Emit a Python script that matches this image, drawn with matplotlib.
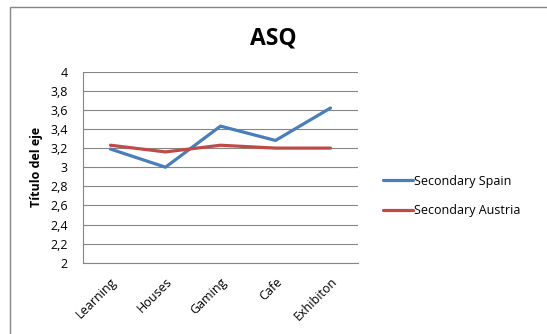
import matplotlib
matplotlib.use("Agg")
import matplotlib.pyplot as plt
from matplotlib.patches import Rectangle
from matplotlib.ticker import FuncFormatter

categories = ["Learning", "Houses", "Gaming", "Cafe", "Exhibiton"]
spain = [3.19, 3.00, 3.43, 3.28, 3.62]
austria = [3.23, 3.16, 3.23, 3.20, 3.20]
y_ticks = [2.0, 2.2, 2.4, 2.6, 2.8, 3.0, 3.2, 3.4, 3.6, 3.8, 4.0]

plt.rcParams["font.family"] = ["Open Sans", "DejaVu Sans"]

W, H = 547, 334
fig = plt.figure(figsize=(W / 100, H / 100), dpi=100)
fig.patch.set_facecolor("white")

# chart-area frame
fig.patches.append(Rectangle((10 / W, -0.05), 1.0, 1 - 7 / H + 0.05,
                             transform=fig.transFigure, fill=False,
                             edgecolor="#868686", linewidth=1.0))

ax = fig.add_axes([83 / W, 1 - 262.7 / H, (358 - 83) / W, (262.7 - 71.7) / H])
x = list(range(len(categories)))
ax.plot(x, spain, color="#4A7EBB", linewidth=2.3, label="Secondary Spain",
        solid_capstyle="round")
ax.plot(x, austria, color="#BE4B48", linewidth=2.3, label="Secondary Austria",
        solid_capstyle="round")

ax.set_xlim(-0.5, len(categories) - 0.5)
ax.set_ylim(2, 4)
ax.set_yticks(y_ticks)
ax.yaxis.set_major_formatter(FuncFormatter(
    lambda v, p: ("%g" % round(v, 1)).replace(".", ",")))
ax.set_xticks(x)
ax.set_xticklabels(categories, rotation=45, ha="right", rotation_mode="anchor")
ax.tick_params(axis="both", length=0, labelsize=9, colors="#000000")
ax.tick_params(axis="y", pad=11)
ax.tick_params(axis="x", pad=9)
ax.grid(axis="y", color="#868686", linewidth=0.8)
ax.set_axisbelow(True)
for side in ("top", "right"):
    ax.spines[side].set_visible(False)
for side in ("left", "bottom"):
    ax.spines[side].set_color("#868686")
    ax.spines[side].set_linewidth(0.8)

ax.set_ylabel("Título del eje", fontsize=9, fontweight="bold", labelpad=5)

fig.text(273 / W, 1 - 38 / H, "ASQ", fontsize=16.5, fontweight="bold",
         ha="center", va="center")

leg = ax.legend(loc="center left", bbox_to_anchor=(377 / W, 1 - 196 / H),
                bbox_transform=fig.transFigure, frameon=False, fontsize=9,
                handlelength=2.4, handletextpad=0.1, labelspacing=1.35,
                borderpad=0)

fig.savefig("out.png", dpi=100, facecolor="white")
